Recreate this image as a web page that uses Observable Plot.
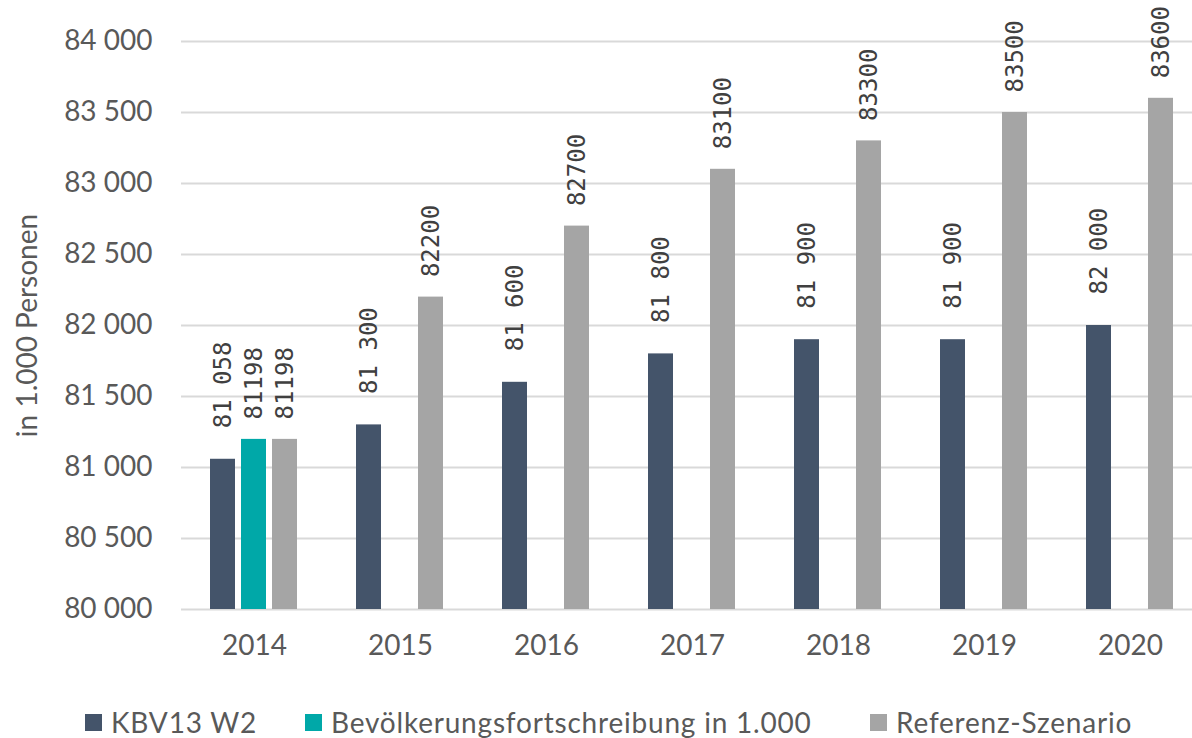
<!DOCTYPE html>
<html>
<head>
<meta charset="utf-8">
<script src="https://cdn.jsdelivr.net/npm/d3@7"></script>
<script src="https://cdn.jsdelivr.net/npm/@observablehq/plot@0.6"></script>
<style>
  html, body { margin: 0; padding: 0; background: #fff; }
  #chart { width: 1192px; height: 738px; overflow: hidden; position: relative; }
  #chart svg { display: block; }
  .legend { position: relative; height: 30px; margin-top: 17px;
    font-family: Lato, "Open Sans", sans-serif; font-size: 28px; line-height: 30px; letter-spacing: 0.8px; color: #595959; }
  .legend .item { position: absolute; top: 0; display: flex; align-items: center; height: 30px; white-space: nowrap; }
  .legend .sw { width: 17px; height: 17px; margin-right: 9px; }
</style>
</head>
<body>
<div id="chart"></div>
<script>
const years = ["2014", "2015", "2016", "2017", "2018", "2019", "2020"];
const seriesNames = ["KBV13 W2", "Bevölkerungsfortschreibung in 1.000", "Referenz-Szenario"];
const colors = ["#44546A", "#00A8A8", "#A5A5A5"];
const kbv = [81058, 81300, 81600, 81800, 81900, 81900, 82000];
const bev = [81198, null, null, null, null, null, null];
const ref = [81198, 82200, 82700, 83100, 83300, 83500, 83600];
const yTicks = [80000, 80500, 81000, 81500, 82000, 82500, 83000, 83500, 84000];

const rows = [];
years.forEach((yr, i) => {
  [kbv, bev, ref].forEach((arr, s) => {
    if (arr[i] != null) rows.push({year: yr, series: seriesNames[s], value: arr[i]});
  });
});

const spaced = d3.formatLocale({decimal: ",", thousands: " ", grouping: [3]}).format(",d");
const plain = d3.format("d");

const chart = Plot.plot({
  width: 1192,
  height: 690,
  marginTop: 41,
  marginBottom: 81,
  marginLeft: 180,
  marginRight: -12,
  style: {fontFamily: "Lato, 'Open Sans', sans-serif", fontSize: "28px", color: "#595959", background: "#fff"},
  fx: {domain: years, padding: 0},
  x: {domain: seriesNames, paddingInner: 0.1875, paddingOuter: 0.883, axis: null},
  y: {domain: [80000, 84000]},
  color: {domain: seriesNames, range: colors},
  marks: [
    Plot.gridY(yTicks, {stroke: "#D9D9D9", strokeOpacity: 1, strokeWidth: 2}),
    Plot.axisY(yTicks, {tickSize: 0, tickPadding: 29, tickFormat: spaced, label: "in 1.000 Personen",
      labelAnchor: "center", labelArrow: "none", labelOffset: 164, fontSize: 28}),
    Plot.axisFx({anchor: "bottom", tickSize: 0, tickPadding: 26, label: null, fontSize: 28}),
    Plot.barY(rows, {fx: "year", x: "series", y1: 80000, y2: "value", fill: "series"}),
    Plot.text(rows.filter(d => d.series === seriesNames[0]), {fx: "year", x: "series", y: "value",
      text: d => spaced(d.value), rotate: -90, textAnchor: "start", dy: -31,
      fontFamily: "'DejaVu Sans Mono', monospace", fontSize: 24, fill: "#404040"}),
    Plot.text(rows.filter(d => d.series !== seriesNames[0]), {fx: "year", x: "series", y: "value",
      text: d => plain(d.value), rotate: -90, textAnchor: "start", dy: -20,
      fontFamily: "'DejaVu Sans Mono', monospace", fontSize: 24, fill: "#404040"})
  ]
});

const root = document.getElementById("chart");
root.appendChild(chart);
const legend = document.createElement("div");
legend.className = "legend";
const legendLeft = ["85px", "305px", "870px"];
seriesNames.forEach((name, i) => {
  const item = document.createElement("div");
  item.className = "item";
  item.style.left = legendLeft[i];
  const sw = document.createElement("span");
  sw.className = "sw";
  sw.style.background = colors[i];
  const t = document.createElement("span");
  t.textContent = name;
  item.appendChild(sw);
  item.appendChild(t);
  legend.appendChild(item);
});
root.appendChild(legend);
</script>
</body>
</html>
